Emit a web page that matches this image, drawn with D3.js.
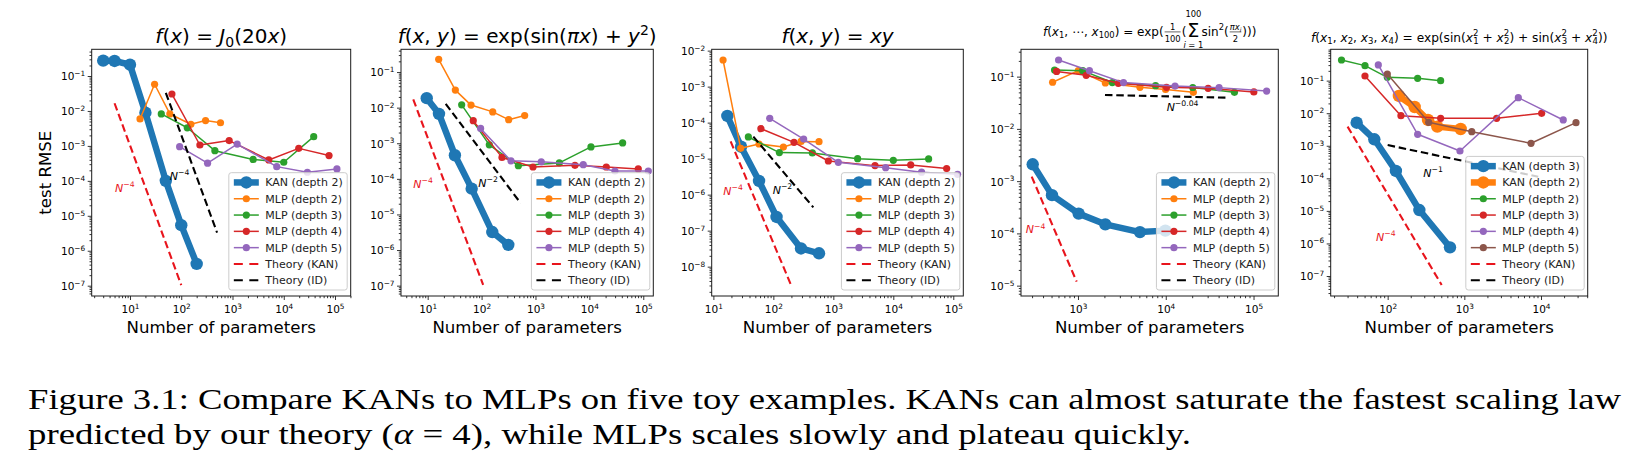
<!DOCTYPE html>
<html><head><meta charset="utf-8">
<script src="https://cdn.jsdelivr.net/npm/d3@7/dist/d3.min.js"></script>
<style>html,body{margin:0;padding:0;background:#fff;}svg{display:block;}</style>
</head><body>
<svg id="fig" width="1643" height="463" xmlns="http://www.w3.org/2000/svg"></svg>
<script>
// ================= DATA =================
// Panel 1: f(x)=J0(20x)
const p1KAN  = [[3,0.275],[5,0.27],[10,0.21],[20,0.0089],[50,1.0e-4],[100,5.4e-6],[200,4.2e-7]];
const p1MLP2 = [[15.7,5.9e-3],[30.2,0.058],[60,8.2e-3],[154,4.15e-3],[298,5.3e-3],[583,4.6e-3]];
const p1MLP3 = [[40.8,8.2e-3],[131,3.3e-3],[453,7.3e-4],[2530,4.1e-4],[10000,3.4e-4],[38400,1.84e-3]];
const p1MLP4 = [[65.8,0.0305],[231,1.06e-3],[861,1.42e-3],[5100,3.96e-4],[19600,8.5e-4],[76400,5.3e-4]];
const p1MLP5 = [[93,9.5e-4],[326,3.2e-4],[1234,1.13e-3],[7300,2.55e-4],[28900,1.76e-4],[109000,2.19e-4]];
const p1TheoryKAN = [[5,0.0166],[100,1.04e-7]];
const p1TheoryID  = [[50,0.033],[500,3.3e-6]];
const p1XTicks = [1e1,1e2,1e3,1e4,1e5];
const p1YTicks = [1e-7,1e-6,1e-5,1e-4,1e-3,1e-2,1e-1];
const p1Notes = [{x:5.1,y:4.9e-5,e:'−4',c:'#e8141c'},{x:60,y:1.06e-4,e:'−4',c:'#000'}];

// Panel 2: f(x,y)=exp(sin(pi x)+y^2)
const p2KAN  = [[9.6,0.0185],[16.2,6.7e-3],[32,4.6e-4],[65.5,5.3e-5],[158,3.2e-6],[313,1.4e-6]];
const p2MLP2 = [[16,0.227],[32.6,0.0311],[63.7,0.0118],[161,7.6e-3],[318,4.6e-3],[630,6.0e-3]];
const p2MLP3 = [[42.7,0.012],[139,9.0e-4],[481,2.35e-4],[2770,2.8e-4],[10700,7.9e-4],[41400,1.02e-3]];
const p2MLP4 = [[70,4.3e-3],[239,4.0e-4],[900,2.15e-4],[5400,2.4e-4],[20600,2.15e-4],[80700,1.9e-4]];
const p2MLP5 = [[96,2.6e-3],[351,3.2e-4],[1280,3.0e-4],[7700,2.5e-4],[29800,1.66e-4],[124000,1.66e-4]];
const p2TheoryKAN = [[5.4,0.017],[107,1.05e-7]];
const p2TheoryID  = [[21.6,0.0128],[531,2.08e-5]];
const p2XTicks = [1e1,1e2,1e3,1e4,1e5];
const p2YTicks = [1e-7,1e-6,1e-5,1e-4,1e-3,1e-2,1e-1];
const p2Notes = [{x:5.4,y:5.5e-5,e:'−4',c:'#e8141c'},{x:87,y:5.9e-5,e:'−2',c:'#000'}];

// Panel 3: f(x,y)=xy
const p3KAN  = [[17.1,1.53e-4],[28.9,2.15e-5],[57.7,2.4e-6],[113,2.4e-7],[289,3.2e-8],[577,2.35e-8]];
const p3MLP2 = [[14.5,5.5e-3],[28.5,1.94e-5],[57.7,2.55e-5],[147,2.1e-5],[290,3.0e-5],[577,2.96e-5]];
const p3MLP3 = [[38.3,4.0e-5],[126,1.47e-5],[447,1.44e-5],[2540,1.0e-5],[10000,9.0e-6],[38800,9.8e-6]];
const p3MLP4 = [[62,6.8e-5],[221,2.84e-5],[826,8.6e-6],[4950,6.4e-6],[19500,6.7e-6],[77500,5.3e-6]];
const p3MLP5 = [[87,1.32e-4],[320,3.5e-5],[1210,7.9e-6],[7450,5.6e-6],[29600,4.2e-6],[118000,3.67e-6]];
const p3TheoryKAN = [[19.4,3.0e-5],[197,3.1e-9]];
const p3TheoryID  = [[46.4,4.08e-5],[464,4.45e-7]];
const p3XTicks = [1e1,1e2,1e3,1e4,1e5];
const p3YTicks = [1e-8,1e-7,1e-6,1e-5,1e-4,1e-3,1e-2];
const p3Notes = [{x:14.6,y:9.8e-7,e:'−4',c:'#e8141c'},{x:97.5,y:1.04e-6,e:'−2',c:'#000'}];

// Panel 4: 100-dimensional
const p4KAN  = [[305,2.1e-3],[506,5.4e-4],[1018,2.39e-4],[2050,1.49e-4],[5080,1.06e-4],[9900,1.13e-4]];
const p4MLP2 = [[514,0.078],[1009,0.13],[2050,0.0757],[5080,0.0625],[9950,0.057],[20600,0.05]];
const p4MLP3 = [[541,0.134],[1131,0.13],[2461,0.077],[7651,0.067],[20301,0.062],[60601,0.05]];
const p4MLP4 = [[571,0.126],[1241,0.106],[2881,0.0745],[10201,0.0625],[30401,0.0598],[100801,0.051]];
const p4MLP5 = [[601,0.208],[1351,0.13],[3301,0.0768],[12751,0.066],[40501,0.0616],[141001,0.053]];
const p4TheoryKAN = [[297,1.22e-3],[966,1.19e-5]];
const p4TheoryID  = [[2030,0.0446],[51500,0.0396]];
const p4XTicks = [1e3,1e4,1e5];
const p4YTicks = [1e-5,1e-4,1e-3,1e-2,1e-1];
const p4Notes = [{x:254,y:1.0e-4,e:'−4',c:'#e8141c'},{x:10230,y:0.022,e:'−0.04',c:'#000'}];

// Panel 5: 4-dimensional
const p5KAN3 = [[39.4,5.1e-3],[67,1.58e-3],[128,1.68e-4],[259,1.06e-5],[650,7.6e-7]];
const p5KAN2 = [[140,0.0338],[225,0.0155],[336,6.2e-3],[444,3.87e-3],[896,3.27e-3]];
const p5MLP2 = [[25,0.43],[50.6,0.289],[99,0.126],[246,0.118],[491,0.1]];
const p5MLP3 = [[50.6,0.139],[149,8.4e-3],[491,6.97e-3],[2640,6.97e-3],[10200,9.9e-3]];
const p5MLP4 = [[75.5,0.303],[246,2.25e-3],[877,6.9e-4],[5060,0.030],[19500,6.2e-3]];
const p5MLP5 = [[99,0.16],[343,5.25e-3],[1250,2.71e-3],[7410,1.19e-3],[28600,5.13e-3]];
const p5TheoryKAN = [[30,3.87e-3],[506,5.3e-8]];
const p5TheoryID  = [[100,1.05e-3],[9200,1.12e-4]];
const p5XTicks = [1e2,1e3,1e4];
const p5YTicks = [1e-7,1e-6,1e-5,1e-4,1e-3,1e-2,1e-1];
const p5Notes = [{x:70.5,y:1.21e-6,e:'−4',c:'#e8141c'},{x:292,y:1.12e-4,e:'−1',c:'#000'}];

const captionLine1 = "Figure 3.1: Compare KANs to MLPs on five toy examples. KANs can almost saturate the fastest scaling law";
const captionLine2a = "predicted by our theory (";
const captionAlpha = "α";
const captionLine2b = " = 4), while MLPs scales slowly and plateau quickly.";

// ================= STYLE / LAYOUT =================
const FONT = "'DejaVu Sans', sans-serif";
const COL = {blue:'#1f77b4',orange:'#ff7f0e',green:'#2ca02c',red:'#d62728',purple:'#9467bd',brown:'#8c564b',theory:'#e8141c'};
const svg = d3.select('#fig');
svg.append('rect').attr('width',1643).attr('height',463).attr('fill','#fff');

function math(t, parts, fs){
  let shift = 0;
  parts.forEach(p=>{
    const [txt, st, dx] = p;
    const sup = st[0]==='^', sub = st[0]==='_';
    const target = sup ? -0.42*fs : sub ? 0.2*fs : 0;
    const ts = t.append('tspan').text(txt).attr('dy',(target-shift).toFixed(2));
    if (dx) ts.attr('dx',dx);
    ts.attr('font-size',(sup||sub)?0.7*fs:fs);
    if (st.indexOf('i')>=0) ts.attr('font-style','italic');
    shift = target;
  });
}

const mlpNames = ['MLP (depth 2)','MLP (depth 3)','MLP (depth 4)','MLP (depth 5)'];
function std(kan, m2, m3, m4, m5){
  return [
    {name:'KAN (depth 2)', data:kan, color:COL.blue, kind:'kan'},
    {name:mlpNames[0], data:m2, color:COL.orange, kind:'mlp'},
    {name:mlpNames[1], data:m3, color:COL.green, kind:'mlp'},
    {name:mlpNames[2], data:m4, color:COL.red, kind:'mlp'},
    {name:mlpNames[3], data:m5, color:COL.purple, kind:'mlp'}];
}

const panels = [
  {box:[91.7,49.3,350.7,296], xd:[0.253,5.306], yd:[-7.295,-0.236], xt:p1XTicks, yt:p1YTicks,
   series:std(p1KAN,p1MLP2,p1MLP3,p1MLP4,p1MLP5), tk:p1TheoryKAN, ti:p1TheoryID, notes:p1Notes, ylabel:true,
   title:[['f','i'],['(','r'],['x','i'],[') = ','r'],['J','i'],['0','_'],['(20','r'],['x','i'],[')','r']], tfs:20},
  {box:[401,49.3,653.3,296], xd:[0.505,5.186], yd:[-7.291,-0.361], xt:p2XTicks, yt:p2YTicks,
   series:std(p2KAN,p2MLP2,p2MLP3,p2MLP4,p2MLP5), tk:p2TheoryKAN, ti:p2TheoryID, notes:p2Notes,
   title:[['f','i'],['(','r'],['x','i'],[', ','r'],['y','i'],[') = exp(sin(','r'],['πx','i'],[') + ','r'],['y','i'],['2','^'],[')','r']], tfs:20},
  {box:[711.7,49.3,963.3,296], xd:[0.972,5.167], yd:[-8.815,-1.963], xt:p3XTicks, yt:p3YTicks,
   series:std(p3KAN,p3MLP2,p3MLP3,p3MLP4,p3MLP5), tk:p3TheoryKAN, ti:p3TheoryID, notes:p3Notes,
   title:[['f','i'],['(','r'],['x','i'],[', ','r'],['y','i'],[') = ','r'],['xy','i']], tfs:20},
  {box:[1021,49.3,1278.3,296], xd:[2.351,5.282], yd:[-5.198,-0.477], xt:p4XTicks, yt:p4YTicks,
   series:std(p4KAN,p4MLP2,p4MLP3,p4MLP4,p4MLP5), tk:p4TheoryKAN, ti:p4TheoryID, notes:p4Notes, title4:true},
  {box:[1330.7,49.3,1587.7,296], xd:[1.257,4.609], yd:[-7.614,-0.0376], xt:p5XTicks, yt:p5YTicks,
   series:[
    {name:'KAN (depth 3)', data:p5KAN3, color:COL.blue, kind:'kan'},
    {name:'KAN (depth 2)', data:p5KAN2, color:COL.orange, kind:'kan'},
    {name:mlpNames[0], data:p5MLP2, color:COL.green, kind:'mlp'},
    {name:mlpNames[1], data:p5MLP3, color:COL.red, kind:'mlp'},
    {name:mlpNames[2], data:p5MLP4, color:COL.purple, kind:'mlp'},
    {name:mlpNames[3], data:p5MLP5, color:COL.brown, kind:'mlp'}],
   tk:p5TheoryKAN, ti:p5TheoryID, notes:p5Notes,
   title:[['f','i'],['(','r'],['x','i'],['1','_'],[', ','r'],['x','i'],['2','_'],[', ','r'],['x','i'],['3','_'],[', ','r'],['x','i'],['4','_'],[') = exp(sin(','r'],
          ['x','i'],['2','^'],['1','_',-5.3],[' + ','r'],['x','i'],['2','^'],['2','_',-5.3],[') + sin(','r'],
          ['x','i'],['2','^'],['3','_',-5.3],[' + ','r'],['x','i'],['2','^'],['4','_',-5.3],['))','r']], tfs:12.2, tbase:41.5}
];

const KAN_W = 6.5, KAN_R = 6.2, MLP_W = 1.5, MLP_R = 3.6, TH_W = 2.1, DASH = '7.5,3.8';

// ---- titles (drawn first) ----
panels.forEach(P=>{
  const [L,T,R,B] = P.box; const cx=(L+R)/2;
  if (P.title){
    const t = svg.append('text').attr('x',cx).attr('y',P.tbase||43).attr('text-anchor','middle')
      .attr('font-family',FONT).attr('font-size',P.tfs).attr('fill','#000');
    math(t, P.title, P.tfs);
  }
  if (P.title4) title4(cx, 35.5, 12);
});

function title4(cx, base, fs){
  const g = svg.append('g').attr('font-family',FONT).attr('fill','#000');
  let cur = 0;
  function put(parts, size, x, y, anchor){
    const t = g.append('text').attr('x',x).attr('y',y).attr('font-size',size).attr('text-anchor',anchor||'start');
    math(t, parts, size);
    return t.node().getComputedTextLength();
  }
  cur += put([['f','i'],['(','r'],['x','i'],['1','_'],[', ⋯, ','r'],['x','i'],['100','_'],[') = exp(','r']], fs, cur, base);
  const s = 0.7*fs;
  let wd = put([['100','r']], s, cur+1+0, base+6.2);
  put([['1','r']], s, cur+1+wd/2, base-5.5, 'middle');
  g.append('line').attr('x1',cur+1).attr('x2',cur+1+wd).attr('y1',base-3.6).attr('y2',base-3.6).attr('stroke','#000').attr('stroke-width',0.6);
  cur += wd + 2;
  cur += put([['(','r']], fs, cur, base);
  const ws = put([['Σ','r']], 1.6*fs, cur+1, base+1);
  put([['100','r']], s, cur+1+ws/2, base-18.3, 'middle');
  put([['i','i'],[' = 1','r']], s, cur+1+ws/2, base+12, 'middle');
  cur += ws + 3;
  cur += put([['sin','r'],['2','^'],['(','r']], fs, cur, base);
  const wn = put([['πx','i'],['i','_i']], s, cur+1, base-5.5);
  put([['2','r']], s, cur+1+wn/2, base+6.2, 'middle');
  g.append('line').attr('x1',cur+1).attr('x2',cur+1+wn).attr('y1',base-3.6).attr('y2',base-3.6).attr('stroke','#000').attr('stroke-width',0.6);
  cur += wn + 2;
  cur += put([[')))','r']], fs, cur, base);
  g.attr('transform',`translate(${cx-cur/2},0)`);
}

// ---- panels ----
panels.forEach(P=>{
  const [L,T,R,B] = P.box;
  const x = d3.scaleLog().domain([10**P.xd[0],10**P.xd[1]]).range([L,R]);
  const y = d3.scaleLog().domain([10**P.yd[0],10**P.yd[1]]).range([B,T]);
  const g = svg.append('g');
  g.append('rect').attr('x',L).attr('y',T).attr('width',R-L).attr('height',B-T).attr('fill','#fff');

  const line = d3.line().x(d=>x(d[0])).y(d=>y(d[1]));
  P.series.forEach(s=>{
    const kan = s.kind==='kan';
    g.append('path').attr('d',line(s.data)).attr('fill','none').attr('stroke',s.color)
      .attr('stroke-width',kan?KAN_W:MLP_W).attr('stroke-linejoin','round').attr('stroke-linecap','round');
    g.selectAll(null).data(s.data).enter().append('circle')
      .attr('cx',d=>x(d[0])).attr('cy',d=>y(d[1])).attr('r',kan?KAN_R:MLP_R).attr('fill',s.color);
  });
  g.append('path').attr('d',line(P.tk)).attr('fill','none').attr('stroke',COL.theory).attr('stroke-width',TH_W).attr('stroke-dasharray',DASH);
  g.append('path').attr('d',line(P.ti)).attr('fill','none').attr('stroke','#000').attr('stroke-width',TH_W).attr('stroke-dasharray',DASH);

  P.notes.forEach(n=>{
    const t = g.append('text').attr('x',x(n.x)).attr('y',y(n.y)).attr('font-family',FONT).attr('fill',n.c).attr('font-size',11);
    math(t, [['N','i'],[n.e,'^']], 11);
  });

  const minorX=[], minorY=[];
  for (let e=Math.floor(P.xd[0]); e<=Math.ceil(P.xd[1]); e++) for (let k=2;k<=9;k++){const v=k*10**e; const lv=Math.log10(v); if(lv>P.xd[0]&&lv<P.xd[1]) minorX.push(v);}
  for (let e=Math.floor(P.yd[0]); e<=Math.ceil(P.yd[1]); e++) for (let k=2;k<=9;k++){const v=k*10**e; const lv=Math.log10(v); if(lv>P.yd[0]&&lv<P.yd[1]) minorY.push(v);}

  const gxm = g.append('g').attr('transform',`translate(0,${B})`).call(d3.axisBottom(x).tickValues(minorX).tickSize(2.2).tickFormat(''));
  const gym = g.append('g').attr('transform',`translate(${L},0)`).call(d3.axisLeft(y).tickValues(minorY).tickSize(2.2).tickFormat(''));
  const gx = g.append('g').attr('transform',`translate(0,${B})`).call(d3.axisBottom(x).tickValues(P.xt).tickSize(4).tickFormat(''));
  const gy = g.append('g').attr('transform',`translate(${L},0)`).call(d3.axisLeft(y).tickValues(P.yt).tickSize(4).tickFormat(''));
  [gxm,gym,gx,gy].forEach(a=>{a.select('.domain').remove(); a.selectAll('line').attr('stroke','#000').attr('stroke-width',0.8);});
  gx.selectAll('.tick text').each(function(d){
    const t = d3.select(this).attr('y',17.3).attr('dy',null).attr('font-family',FONT).attr('font-size',10.5).attr('fill','#000').attr('text-anchor','middle');
    math(t, [['10','r'],[String(Math.round(Math.log10(d))).replace('-','−'),'^']], 10.5);
  });
  gy.selectAll('.tick text').each(function(d){
    const t = d3.select(this).attr('x',-6.5).attr('y',3.9).attr('dy',null).attr('font-family',FONT).attr('font-size',10.5).attr('fill','#000').attr('text-anchor','end');
    math(t, [['10','r'],[String(Math.round(Math.log10(d))).replace('-','−'),'^']], 10.5);
  });

  g.append('rect').attr('x',L).attr('y',T).attr('width',R-L).attr('height',B-T).attr('fill','none').attr('stroke','#1a1a1a').attr('stroke-width',1);

  g.append('text').attr('x',(L+R)/2).attr('y',333).attr('text-anchor','middle').attr('font-family',FONT).attr('font-size',16.6).text('Number of parameters');
  if (P.ylabel) g.append('text').attr('transform',`translate(51,${(T+B)/2}) rotate(-90)`).attr('text-anchor','middle').attr('font-family',FONT).attr('font-size',16.6).text('test RMSE');

  const entries = P.series.map(s=>({name:s.name,color:s.color,kind:s.kind}))
    .concat([{name:'Theory (KAN)',color:COL.theory,kind:'dash'},{name:'Theory (ID)',color:'#000',kind:'dash'}]);
  const rowH = 16.3, n = entries.length;
  const lg = g.append('g');
  const box = lg.append('rect');
  const texts = [];
  let maxW = 0;
  entries.forEach((e,i)=>{
    const t = lg.append('text').attr('font-family',FONT).attr('font-size',11).attr('fill','#222').text(e.name);
    maxW = Math.max(maxW, t.node().getComputedTextLength());
    texts.push(t);
  });
  const lw = 36.5 + maxW + 4.5, lh = n*rowH + 3.2;
  const lx = R - 3.5 - lw, ly = B - 6 - lh;
  box.attr('x',lx).attr('y',ly).attr('width',lw).attr('height',lh).attr('rx',2.5)
     .attr('fill','#fff').attr('fill-opacity',0.8).attr('stroke','#cccccc').attr('stroke-width',1);
  entries.forEach((e,i)=>{
    const cy = ly + 1.6 + rowH*(i+0.5);
    texts[i].attr('x',lx+36.5).attr('y',cy+4);
    if (e.kind==='dash'){
      lg.append('line').attr('x1',lx+5).attr('x2',lx+30).attr('y1',cy).attr('y2',cy).attr('stroke',e.color).attr('stroke-width',TH_W).attr('stroke-dasharray','9,6.5');
    } else {
      const kan = e.kind==='kan';
      lg.append('line').attr('x1',lx+5).attr('x2',lx+30).attr('y1',cy).attr('y2',cy).attr('stroke',e.color).attr('stroke-width',kan?KAN_W:MLP_W);
      lg.append('circle').attr('cx',lx+17.5).attr('cy',cy).attr('r',kan?KAN_R:MLP_R).attr('fill',e.color);
    }
  });
});

// ---- caption ----
const CAP_FS = 30;
const c1 = svg.append('text').attr('x',28).attr('y',409).attr('font-family',"'Liberation Serif', serif").attr('font-size',CAP_FS).attr('fill','#000').text(captionLine1);
c1.attr('textLength',1593).attr('lengthAdjust','spacingAndGlyphs');
const c2 = svg.append('text').attr('x',28).attr('y',444).attr('font-family',"'Liberation Serif', serif").attr('font-size',CAP_FS).attr('fill','#000');
c2.append('tspan').text(captionLine2a);
c2.append('tspan').attr('font-style','italic').text(captionAlpha);
c2.append('tspan').text(captionLine2b);
c2.attr('textLength',1163).attr('lengthAdjust','spacingAndGlyphs');
</script>
</body></html>
